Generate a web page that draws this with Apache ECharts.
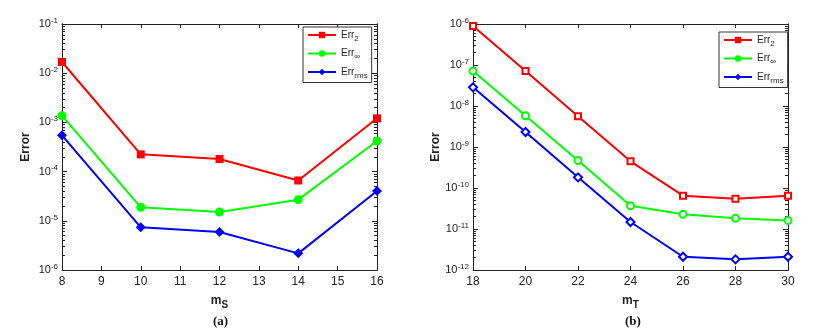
<!DOCTYPE html>
<html>
<head>
<meta charset="utf-8">
<script src="https://cdn.jsdelivr.net/npm/echarts@6/dist/echarts.min.js"></script>
<style>
  html, body { margin: 0; padding: 0; background: #fff; }
  #chart { width: 827px; height: 331px; }
</style>
</head>
<body>
<div id="chart"></div>
<script>
// panel (a): error vs m_S
const msValues = [8, 10, 12, 14, 16]
const errA2 = [1.69e-2, 2.24e-4, 1.8e-4, 6.6e-5, 1.21e-3]
const errAInf = [1.37e-3, 1.88e-5, 1.51e-5, 2.69e-5, 4.19e-4]
const errARms = [5.46e-4, 7.36e-6, 5.9e-6, 2.18e-6, 4.04e-5]

// panel (b): error vs m_T
const mtValues = [18, 20, 22, 24, 26, 28, 30]
const errB2 = [8.9e-7, 7.14e-8, 5.6e-9, 4.47e-10, 6.5e-11, 5.5e-11, 6.5e-11]
const errBInf = [7.1e-8, 5.8e-9, 4.7e-10, 3.7e-11, 2.28e-11, 1.82e-11, 1.62e-11]
const errBRms = [2.85e-8, 2.32e-9, 1.82e-10, 1.48e-11, 2.1e-12, 1.82e-12, 2.1e-12]

const seriesNames = ['Err2', 'ErrInf', 'ErrRms']
const legendLabels = {
    Err2: 'Err{sub|2}',
    ErrInf: 'Err{sub|\u221e}',
    ErrRms: 'Err{sub|rms}'
}
const colors = ['#ff0000', '#00ff00', '#0000ff']
const font = 'Liberation Sans, Arial, sans-serif'

let pairs = (xs, ys) => xs.map((x, i) => [x, ys[i]])

let powLabel = (v) => {
    let e = Math.round(Math.log10(v))
    return '10{sup|' + e + '}'
}

// matlab style minor ticks (2..9 of every decade), in log10 units
let minorTicks = (e0, e1) => {
    let out = []
    for (let e = e0; e < e1; e++) {
        for (let k = 2; k <= 9; k++) out.push(e + Math.log10(k))
    }
    return out
}

let labelRich = {
    sup: { fontSize: 8, fontFamily: font, color: '#222', verticalAlign: 'bottom', padding: [0, 0, 7, 0] }
}

let grids = [
    { left: 62, top: 24, width: 315, height: 246 },
    { left: 473, top: 24, width: 315, height: 246 }
]

let xAxisBase = (gridIndex, min, max, interval, name, sub) => ([
    {
        type: 'value', gridIndex, min, max, interval,
        position: 'bottom',
        axisLine: { lineStyle: { color: '#222', width: 1 } },
        axisTick: { inside: true, length: 4, lineStyle: { color: '#222' } },
        axisLabel: { color: '#222', fontFamily: font, fontSize: 12, margin: 6 },
        splitLine: { show: false },
        name: 'm{sub|' + sub + '}',
        nameLocation: 'middle',
        nameGap: 22,
        nameTextStyle: {
            color: '#222', fontFamily: font, fontSize: 12, fontWeight: 'bold',
            rich: { sub: { fontSize: 10, fontFamily: font, fontWeight: 'bold', color: '#222', verticalAlign: 'top', padding: [8, 0, 0, 0] } }
        }
    },
    {
        type: 'value', gridIndex, min, max, interval,
        position: 'top',
        axisLine: { lineStyle: { color: '#222', width: 1 } },
        axisTick: { inside: true, length: 4, lineStyle: { color: '#222' } },
        axisLabel: { show: false },
        splitLine: { show: false }
    }
])

let yAxisBase = (gridIndex, min, max) => ([
    {
        type: 'log', logBase: 10, gridIndex, min, max,
        position: 'left',
        axisLine: { show: true, lineStyle: { color: '#222', width: 1 } },
        axisTick: { inside: true, length: 5, lineStyle: { color: '#222' } },
        axisLabel: { color: '#222', fontFamily: font, fontSize: 11, margin: 4, formatter: powLabel, rich: labelRich },
        splitLine: { show: false },
        name: 'Error',
        nameLocation: 'middle',
        nameGap: 30,
        nameTextStyle: { color: '#222', fontFamily: font, fontSize: 12, fontWeight: 'bold' }
    },
    {
        type: 'log', logBase: 10, gridIndex, min, max,
        position: 'right',
        axisLine: { show: true, lineStyle: { color: '#222', width: 1 } },
        axisTick: { inside: true, length: 5, lineStyle: { color: '#222' } },
        axisLabel: { show: false },
        splitLine: { show: false }
    }
])

// extra linear axes in log10 units that only carry the minor ticks
let minorAxes = (gridIndex, e0, e1) => ['left', 'right'].map((pos) => ({
    type: 'value', gridIndex, min: e0, max: e1,
    position: pos,
    axisLine: { show: true, onZero: false, lineStyle: { color: '#222', width: 1 } },
    axisTick: { show: true, inside: true, length: 3, customValues: minorTicks(e0, e1), lineStyle: { color: '#222' } },
    axisLabel: { show: false },
    splitLine: { show: false }
}))

let makeSeries = (xIdx, yIdx, xs, data, filled) => {
    let symbols = filled ? ['rect', 'circle', 'diamond'] : ['emptyRect', 'emptyCircle', 'emptyDiamond']
    let sizes = filled ? [8, 9, 10] : [6, 7, 8]
    return data.map((ys, i) => ({
        name: seriesNames[i],
        type: 'line',
        xAxisIndex: xIdx,
        yAxisIndex: yIdx,
        data: pairs(xs, ys),
        symbol: symbols[i],
        symbolSize: sizes[i],
        showAllSymbol: true,
        lineStyle: { color: colors[i], width: 2 },
        itemStyle: { color: colors[i], borderColor: colors[i], borderWidth: filled ? 0 : 1.5 },
        z: 5 - i,
        animation: false
    }))
}

let makeLegend = (left, top) => ({
    data: seriesNames,
    orient: 'vertical',
    left, top,
    itemWidth: 28,
    itemHeight: 8,
    itemGap: 6,
    padding: [3, 4, 3, 4],
    borderColor: '#333',
    borderWidth: 1,
    backgroundColor: '#fff',
    formatter: (name) => legendLabels[name],
    textStyle: {
        color: '#222', fontFamily: font, fontSize: 10,
        rich: { sub: { fontSize: 8, fontFamily: font, color: '#222', verticalAlign: 'top', padding: [7, 0, 0, 0] } }
    }
})

let option = {
    animation: false,
    backgroundColor: '#fff',
    grid: grids,
    xAxis: [
        ...xAxisBase(0, 8, 16, 1, 'm', 'S'),
        ...xAxisBase(1, 18, 30, 2, 'm', 'T')
    ],
    yAxis: [
        ...yAxisBase(0, 1e-6, 1e-1),
        ...yAxisBase(1, 1e-12, 1e-6),
        ...minorAxes(0, -6, -1),
        ...minorAxes(1, -12, -6)
    ],
    legend: [
        makeLegend(303, 27),
        makeLegend(719, 32)
    ],
    title: [
        { text: '(a)', left: 208, top: 310, textStyle: { fontFamily: 'Liberation Serif, serif', fontWeight: 'bold', fontSize: 13, color: '#111' } },
        { text: '(b)', left: 620, top: 310, textStyle: { fontFamily: 'Liberation Serif, serif', fontWeight: 'bold', fontSize: 13, color: '#111' } }
    ],
    series: [
        ...makeSeries(0, 0, msValues, [errA2, errAInf, errARms], true),
        ...makeSeries(2, 2, mtValues, [errB2, errBInf, errBRms], false)
    ]
}

const chart = echarts.init(document.getElementById('chart'))
chart.setOption(option)
</script>
</body>
</html>
